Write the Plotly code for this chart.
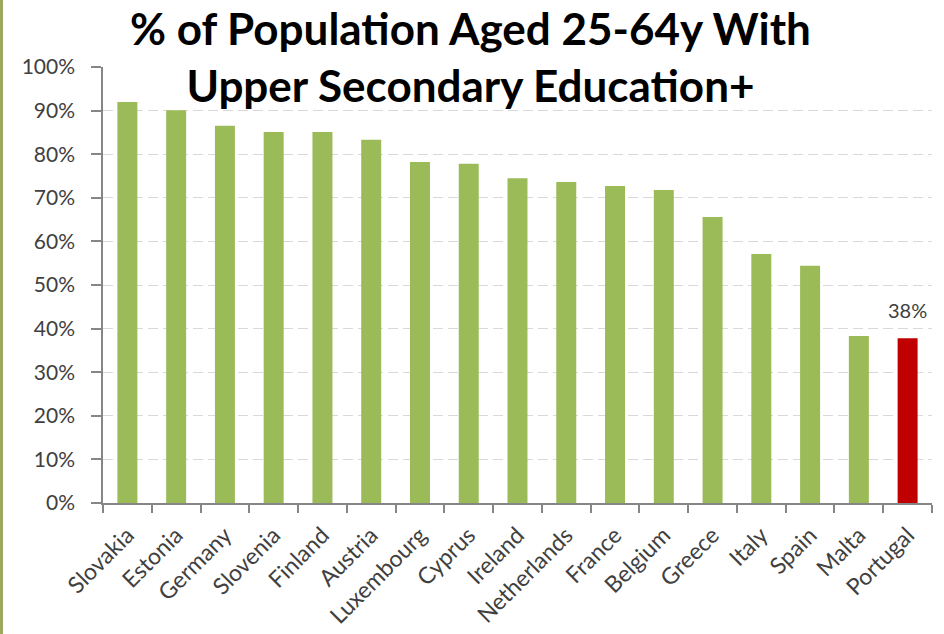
import plotly.graph_objects as go

countries = ["Slovakia", "Estonia", "Germany", "Slovenia", "Finland", "Austria",
             "Luxembourg", "Cyprus", "Ireland", "Netherlands", "France", "Belgium",
             "Greece", "Italy", "Spain", "Malta", "Portugal"]
values = [92.0, 90.1, 86.5, 85.1, 85.1, 83.3, 78.2, 77.8, 74.5, 73.6, 72.7, 71.8,
          65.6, 57.1, 54.4, 38.3, 37.8]
highlight = "Portugal"
y_ticks = [0, 10, 20, 30, 40, 50, 60, 70, 80, 90, 100]

colors = ["#C00000" if c == highlight else "#9BBB59" for c in countries]
hi_value = values[countries.index(highlight)]

W, H = 944, 634
ML, MR, MT, MB = 103, 12, 67, 131
font = "Lato, Open Sans, sans-serif"

fig = go.Figure(go.Bar(
    x=countries, y=values,
    marker=dict(color=colors, line=dict(width=0)),
))

pw = W - ML - MR
ph = H - MT - MB
fig.update_layout(
    width=W, height=H,
    margin=dict(l=ML, r=MR, t=MT, b=MB, pad=0, autoexpand=False),
    paper_bgcolor="white", plot_bgcolor="white",
    bargap=0.59,
    showlegend=False,
    font=dict(family=font, color="#404040"),
    xaxis=dict(
        type="category", tickangle=-45, tickson="boundaries", automargin=False,
        ticks="outside", ticklen=8, tickcolor="#868686", tickwidth=1.5,
        ticklabelstandoff=8,
        showline=True, linecolor="#868686", linewidth=1.5,
        showgrid=False, tickfont=dict(family=font, size=23, color="#404040"),
    ),
    yaxis=dict(
        range=[0, 100], tickvals=y_ticks, ticktext=["%d%%" % t for t in y_ticks],
        automargin=False,
        ticks="outside", ticklen=10, tickcolor="#868686", tickwidth=1.5,
        ticklabelstandoff=12,
        showline=True, linecolor="#868686", linewidth=1.5,
        showgrid=True, gridcolor="#D9D9D9", griddash="10px,5px", gridwidth=1.3,
        zeroline=False, tickfont=dict(family=font, size=21, color="#404040"),
    ),
    annotations=[
        dict(
            text="<b>% of Population Aged 25-64y With<br>Upper Secondary Education+</b>",
            xref="paper", yref="paper", x=(470 - ML) / pw, y=1 + MT / ph,
            xanchor="center", yanchor="top", showarrow=False, align="center",
            font=dict(family=font, size=44, color="black"),
        ),
        dict(
            text="%d%%" % round(hi_value), x=highlight, y=hi_value,
            xref="x", yref="y", xanchor="center", yanchor="bottom",
            yshift=14, showarrow=False,
            font=dict(family=font, size=20, color="#404040"),
        ),
    ],
    shapes=[dict(
        type="rect", xref="paper", yref="paper",
        x0=-ML / pw, x1=(3 - ML) / pw, y0=-MB / ph, y1=1 + MT / ph,
        fillcolor="#9BAA5E", line=dict(width=0), layer="above",
    )],
)

fig.write_html("out.html", config={"displayModeBar": False},
               post_script="document.body.style.margin='0';document.body.style.overflow='hidden';")
